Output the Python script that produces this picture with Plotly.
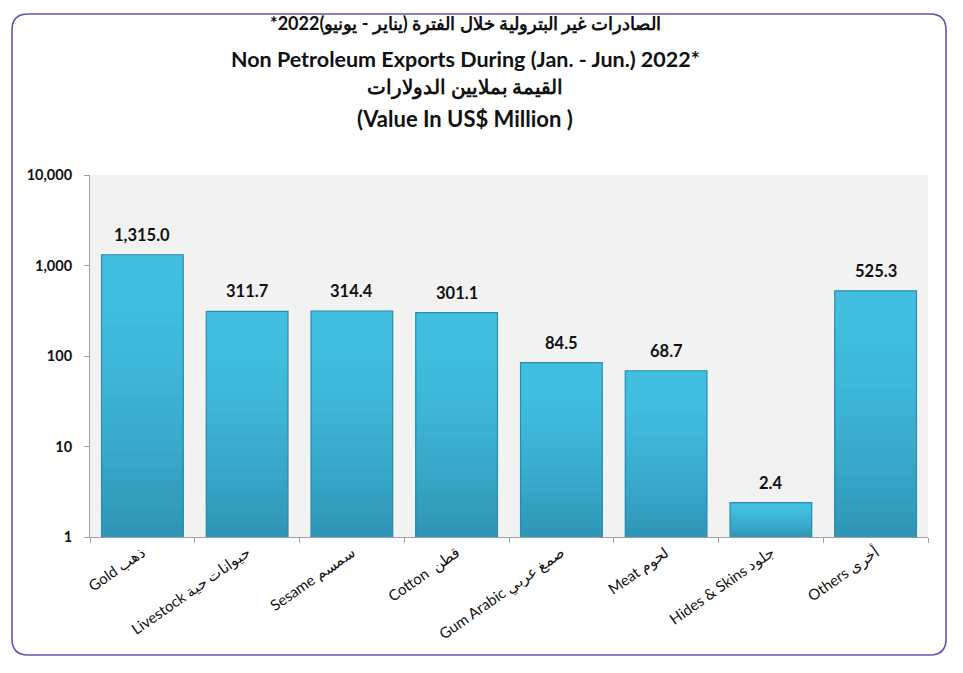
import math
import plotly.graph_objects as go

categories = ["Gold ذهب", "Livestock حيوانات حية", "Sesame سمسم", "Cotton  قطن",
              "Gum Arabic صمغ عربي", "Meat لحوم", "Hides & Skins جلود", "Others أخرى"]
values = [1315.0, 311.7, 314.4, 301.1, 84.5, 68.7, 2.4, 525.3]
value_labels = ["1,315.0", "311.7", "314.4", "301.1", "84.5", "68.7", "2.4", "525.3"]
y_tickvals = [1, 10, 100, 1000, 10000]
y_ticktext = ["1", "10", "100", "1,000", "10,000"]
title_lines = ["\u200fالصادرات غير البترولية خلال الفترة (يناير - يونيو)2022*\u200f",
               "Non Petroleum Exports During (Jan. - Jun.) 2022*",
               "\u200fالقيمة بملايين الدولارات\u200f",
               "(Value In US$ Million )"]

W, H = 963, 673
ML, MR, MT, MB = 90, 35, 175, 136
PW, PH = W - ML - MR, H - MT - MB

def px(x):
    return (x - ML) / PW

def py(y):
    return (H - MB - y) / PH

def mix(c1, c2, t):
    a = [int(c1[i:i + 2], 16) for i in (1, 3, 5)]
    b = [int(c2[i:i + 2], 16) for i in (1, 3, 5)]
    return "#" + "".join(f"{round(a[i] + (b[i] - a[i]) * t):02x}" for i in range(3))

fig = go.Figure()

# vertical shading of each bar (light at top, darker toward the base)
N = 20
top_col, bot_col = "#42BFE0", "#2E93B3"
for k in range(N, 0, -1):
    f = k / N
    t = (1 - f) ** 1.6
    fig.add_trace(go.Bar(
        x=categories, y=[v ** f for v in values],
        marker=dict(color=mix(top_col, bot_col, t), line=dict(width=0)),
        width=0.78, hoverinfo="skip", showlegend=False,
    ))
# outline
fig.add_trace(go.Bar(
    x=categories, y=values,
    marker=dict(color="rgba(0,0,0,0)", line=dict(color="#2C8CAC", width=1.2)),
    width=0.78, hoverinfo="skip", showlegend=False,
))

for c, v, lab in zip(categories, values, value_labels):
    fig.add_annotation(x=c, y=math.log10(v), text="<b>" + lab + "</b>", showarrow=False,
                       xanchor="center", yanchor="bottom", yshift=8,
                       font=dict(family="Lato, Open Sans, sans-serif", size=16.5, color="#111111"))

# rounded border
x0, x1, y0, y1, r = 12, 946, 14, 655, 16
path = (f"M {px(x0+r)},{py(y0)} L {px(x1-r)},{py(y0)} Q {px(x1)},{py(y0)} {px(x1)},{py(y0+r)} "
        f"L {px(x1)},{py(y1-r)} Q {px(x1)},{py(y1)} {px(x1-r)},{py(y1)} "
        f"L {px(x0+r)},{py(y1)} Q {px(x0)},{py(y1)} {px(x0)},{py(y1-r)} "
        f"L {px(x0)},{py(y0+r)} Q {px(x0)},{py(y0)} {px(x0+r)},{py(y0)} Z")
fig.add_shape(type="path", xref="paper", yref="paper", path=path,
              line=dict(color="#5F55AE", width=1.6), layer="below")

title_y = [23, 59, 88, 118]
title_sizes = [18, 21.5, 19.5, 22]
for t, yy, s in zip(title_lines, title_y, title_sizes):
    fig.add_annotation(text="<b>" + t + "</b>", x=px(465), y=py(yy), xref="paper", yref="paper",
                       showarrow=False, xanchor="center", yanchor="middle",
                       font=dict(family="Lato, Noto Sans, sans-serif", size=s, color="#111111"))

fig.update_layout(
    width=W, height=H,
    margin=dict(l=ML, r=MR, t=MT, b=MB),
    paper_bgcolor="white",
    plot_bgcolor="#F2F2F2",
    showlegend=False,
    barmode="overlay",
    font=dict(family="Lato, Noto Sans, sans-serif", color="#111111"),
)
fig.update_yaxes(type="log", range=[0, 4], tickvals=y_tickvals, ticktext=y_ticktext,
                 showgrid=False, showline=True, linecolor="#A0A0A0", linewidth=1,
                 ticks="outside", ticklen=5, tickcolor="#A0A0A0", ticklabelstandoff=9,
                 tickfont=dict(family="Lato, sans-serif", size=14.5, color="#111111", weight="bold"),
                 zeroline=False)
fig.update_xaxes(showgrid=False, showline=True, linecolor="#A0A0A0", linewidth=1,
                 ticks="outside", ticklen=5, tickcolor="#A0A0A0", tickson="boundaries",
                 tickangle=-35, tickfont=dict(family="Lato, Noto Sans, sans-serif", size=15, color="#111111"))

fig.write_html("out.html")
